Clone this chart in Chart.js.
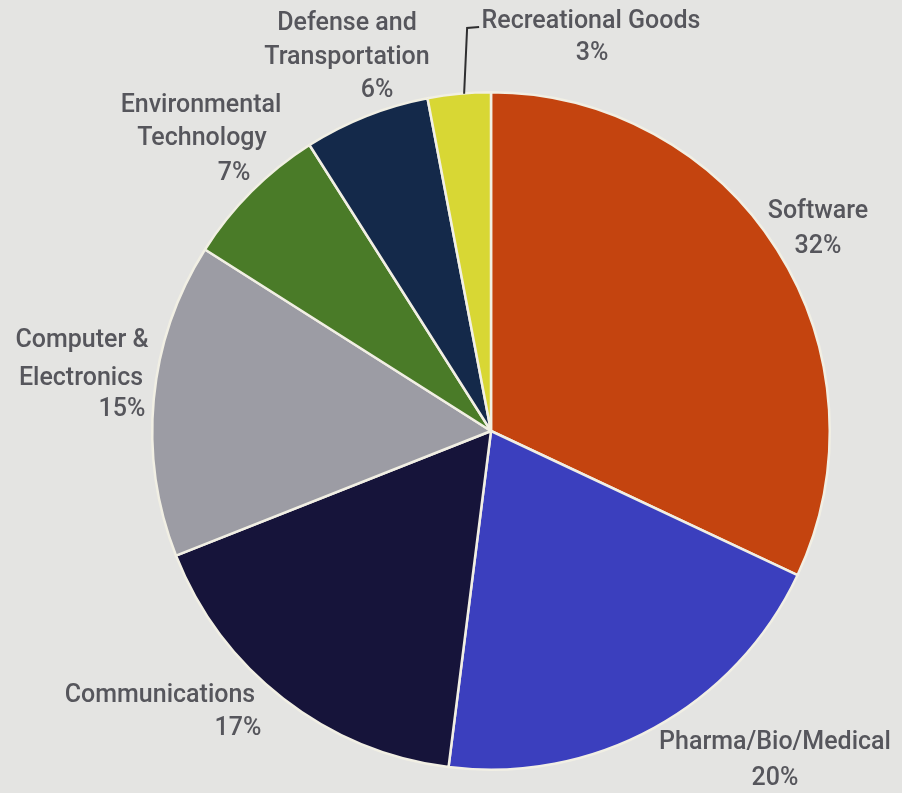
<!DOCTYPE html>
<html lang="en">
<head>
  <meta charset="UTF-8">
  <title>Investment by Sector</title>
  <style>
    html, body { margin: 0; padding: 0; background: #e4e4e2; }
    #wrap { width: 902px; height: 793px; position: relative; }
  </style>
</head>
<body>
  <div id="wrap"><canvas id="sectorPie"></canvas></div>
  <script src="https://cdn.jsdelivr.net/npm/chart.js"></script>
  <script>
    // Sector shares, clockwise from 12 o'clock
    const sectors = ['Software', 'Pharma/Bio/Medical', 'Communications', 'Computer & Electronics',
      'Environmental Technology', 'Defense and Transportation', 'Recreational Goods'];
    const shares = [32, 20, 17, 15, 7, 6, 3];
    const sliceColors = ['#c4440f', '#3b3fbe', '#16143a', '#9c9ca4', '#4a7b28', '#14294a', '#d8d734'];

    // Label lines as typeset beside each slice (the % line is filled from shares)
    const labelLines = [
      ['Software'],
      ['Pharma/Bio/Medical'],
      ['Communications'],
      ['Computer &', 'Electronics'],
      ['Environmental', 'Technology'],
      ['Defense and', 'Transportation'],
      ['Recreational Goods']
    ];
    // centre of each text line, as offsets from the pie centre
    const labelSpots = [
      [[327, -219], [327, -184]],
      [[284, 312], [284, 348]],
      [[-331, 265], [-253, 298]],
      [[-409, -90], [-410, -52], [-369, -21]],
      [[-290, -325], [-289, -292], [-257, -257]],
      [[-144, -407], [-144, -373], [-114, -340]],
      [[100, -409], [101, -377]]
    ];

    const labelPlugin = {
      id: 'sectorLabels',
      afterDatasetsDraw(chart) {
        const ctx = chart.ctx;
        const arcs = chart.getDatasetMeta(0).data;
        const cx = arcs[0].x, cy = arcs[0].y;
        ctx.save();
        ctx.font = '500 25px Roboto';
        ctx.fillStyle = '#56565c';
        ctx.textAlign = 'center';
        ctx.textBaseline = 'middle';
        labelLines.forEach((lines, i) => {
          const texts = lines.concat(shares[i] + '%');
          texts.forEach((t, j) => {
            const p = labelSpots[i][j];
            ctx.fillText(t, cx + p[0], cy + p[1]);
          });
        });
        // leader for the thin yellow slice
        const a = arcs[6];
        const mid = (a.startAngle + a.endAngle) / 2;
        const x0 = cx + Math.cos(mid) * a.outerRadius + 5;
        const y0 = cy + Math.sin(mid) * a.outerRadius;
        ctx.strokeStyle = '#2e2e30';
        ctx.lineWidth = 2;
        ctx.beginPath();
        ctx.moveTo(x0, y0);
        ctx.lineTo(x0 + 3, cy - 403);
        ctx.lineTo(x0 + 15, cy - 404);
        ctx.stroke();
        ctx.restore();
      }
    };

    new Chart(document.getElementById('sectorPie'), {
      type: 'pie',
      data: {
        labels: sectors,
        datasets: [{
          data: shares,
          backgroundColor: sliceColors,
          borderColor: '#f1efe4',
          borderWidth: 2.5
        }]
      },
      options: {
        responsive: true,
        maintainAspectRatio: false,
        animation: false,
        layout: { padding: { left: 151, right: 71, top: 91, bottom: 22 } },
        plugins: { legend: { display: false }, tooltip: { enabled: false } }
      },
      plugins: [labelPlugin]
    });
  </script>
</body>
</html>
